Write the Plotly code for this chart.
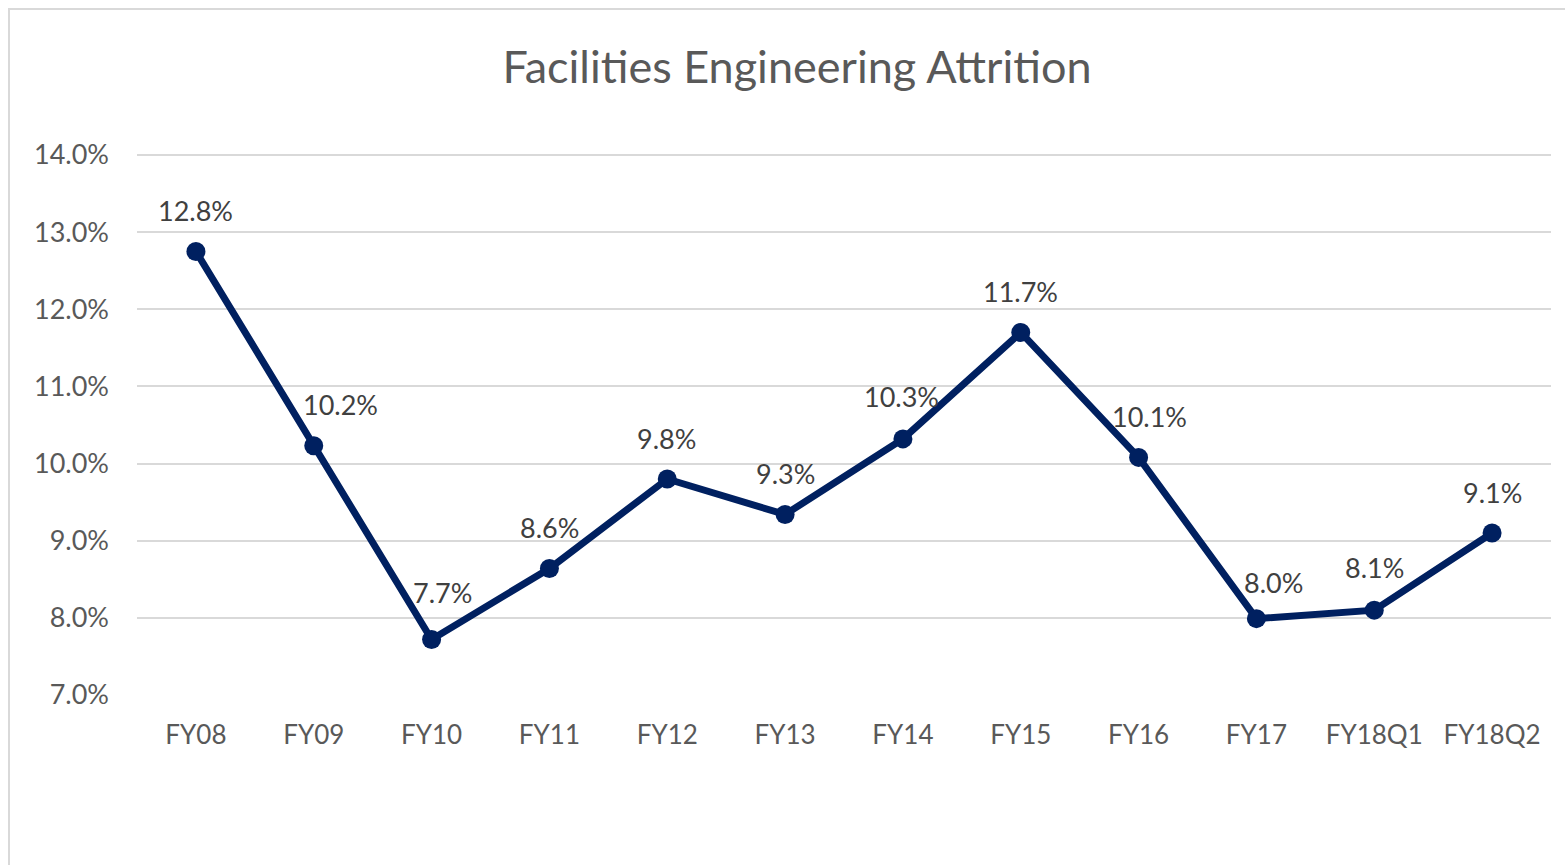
import plotly.graph_objects as go

categories = ["FY08", "FY09", "FY10", "FY11", "FY12", "FY13", "FY14", "FY15",
              "FY16", "FY17", "FY18Q1", "FY18Q2"]
attrition = [12.75, 10.23, 7.72, 8.64, 9.80, 9.34, 10.32, 11.70, 10.08, 7.99, 8.10, 9.10]
labels = ["12.8%", "10.2%", "7.7%", "8.6%", "9.8%", "9.3%", "10.3%", "11.7%",
          "10.1%", "8.0%", "8.1%", "9.1%"]
y_ticks = [7, 8, 9, 10, 11, 12, 13, 14]
y_tick_text = ["7.0%", "8.0%", "9.0%", "10.0%", "11.0%", "12.0%", "13.0%", "14.0%"]

# label placement nudges (pixels), as placed in the original chart
label_dx = [0, 27, 11, 0, -1, 0, -1, 0, 11, 17, 0, 0]
label_dy = [41, 41, 47, 41, 41, 41, 42, 41, 41, 36, 43, 41]

FONT = "Lato, 'Open Sans', sans-serif"
navy = "#002060"

fig = go.Figure()
fig.add_trace(go.Scatter(
    x=categories, y=attrition, mode="lines+markers",
    line=dict(color=navy, width=7),
    marker=dict(color=navy, size=19),
    hoverinfo="skip", showlegend=False,
))

for c, v, t, dx, dy in zip(categories, attrition, labels, label_dx, label_dy):
    fig.add_annotation(x=c, y=v, text=t, showarrow=False, xshift=dx, yshift=dy,
                       font=dict(family=FONT, size=27, color="#404040"))

W, H = 1565, 865
ml, mr, mt, mb = 137, 14, 153, 170
pw, ph = W - ml - mr, H - mt - mb
y_lo, y_hi = 7.0, 14.0 + 2 / 77.14

def px(x):
    return (x - ml) / pw

def py(y):
    return (H - mb - y) / ph

fig.add_shape(type="rect", xref="paper", yref="paper",
              x0=px(9), x1=px(1580), y0=py(880), y1=py(9),
              line=dict(color="#d9d9d9", width=2), layer="below")

fig.update_layout(
    width=W, height=H,
    margin=dict(l=ml, r=mr, t=mt, b=mb),
    paper_bgcolor="white", plot_bgcolor="white",
    title=dict(text="Facilities Engineering Attrition", x=797 / W, xref="container",
               xanchor="center", y=1 - 67 / H, yanchor="middle",
               font=dict(family=FONT, size=45, color="#595959")),
    xaxis=dict(type="category", range=[-0.5, 11.5], showgrid=False,
               showline=False, zeroline=False, ticks="",
               tickfont=dict(family=FONT, size=26, color="#595959"),
               ticklabelstandoff=22),
    yaxis=dict(range=[y_lo, y_hi], tickvals=y_ticks, ticktext=y_tick_text,
               showgrid=True, gridcolor="#d9d9d9", gridwidth=2,
               zeroline=False, showline=False, ticks="",
               tickfont=dict(family=FONT, size=27, color="#595959"),
               ticklabelstandoff=27),
)

fig.write_html("out.html", config={"displayModeBar": False},
               post_script="document.body.style.margin='0';document.body.style.overflow='hidden';")
